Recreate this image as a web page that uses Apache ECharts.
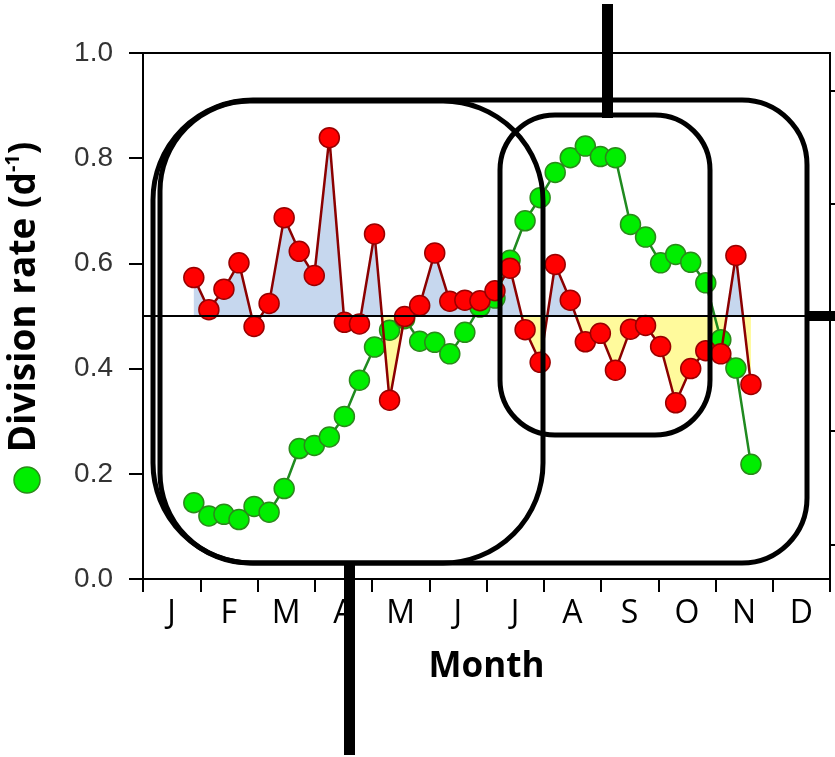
<!DOCTYPE html>
<html><head><meta charset="utf-8">
<script src="https://cdn.jsdelivr.net/npm/echarts@6/dist/echarts.min.js"></script>
<style>html,body{margin:0;padding:0;background:#fff}#c{width:835px;height:757px}</style>
</head><body><div id="c"></div>
<script>
const months = ['J','F','M','A','M','J','J','A','S','O','N','D'];
const days = [27,35,43,51,59,67,75,83,91,99,107,115,123,131,139,147,155,163,171,179,187,195,203,211,219,227,235,243,251,259,267,275,283,291,299,307,315,323];
const greenValues = [0.145,0.120,0.123,0.113,0.138,0.127,0.172,0.248,0.254,0.270,0.309,0.378,0.441,0.473,0.495,0.452,0.450,0.428,0.469,0.517,0.534,0.606,0.681,0.725,0.773,0.801,0.823,0.803,0.801,0.674,0.650,0.601,0.617,0.602,0.563,0.455,0.401,0.218];
const redValues = [0.573,0.512,0.551,0.601,0.480,0.524,0.687,0.623,0.577,0.839,0.488,0.485,0.656,0.340,0.499,0.520,0.620,0.528,0.530,0.529,0.548,0.591,0.474,0.412,0.598,0.530,0.451,0.467,0.397,0.475,0.482,0.442,0.335,0.400,0.434,0.428,0.615,0.370];
const refLevel = 0.5;
const rightTicks = [0.065,0.281,0.497,0.713,0.929];

const greenData = days.map((d,i)=>[d, greenValues[i]]);
const redData = days.map((d,i)=>[d, redValues[i]]);

const chart = echarts.init(document.getElementById('c'), null, {renderer:'canvas'});
const option = {
  animation:false,
  backgroundColor:'#fff',
  grid:{left:143, right:5, top:53, bottom:178, show:true, borderColor:'#000', borderWidth:2,
        containLabel:false, outerBoundsMode:'none'},
  visualMap:{show:false, type:'piecewise', seriesIndex:0, dimension:1,
    pieces:[{gte:-1, lt:refLevel, color:'#fffa9c'},{gte:refLevel, lte:2, color:'#c6d7ee'}]},
  xAxis:[
    {type:'category', data:months, boundaryGap:true, position:'bottom',
     axisLine:{show:true, lineStyle:{color:'#000', width:2}},
     axisTick:{show:true, inside:false, length:13, lineStyle:{color:'#000', width:2}},
     axisLabel:{fontFamily:'Open Sans', fontSize:32, color:'#000', margin:19},
     splitLine:{show:false},
     name:'Month', nameLocation:'middle', nameGap:71,
     nameTextStyle:{fontFamily:'Open Sans', fontWeight:'bold', fontSize:35, color:'#000'}},
    {type:'value', min:0, max:365, show:false}
  ],
  yAxis:[
    {type:'value', min:0, max:1, interval:0.2, position:'left',
     axisLine:{show:true, lineStyle:{color:'#000', width:2}},
     axisTick:{show:true, inside:false, length:14, lineStyle:{color:'#000', width:2}},
     axisLabel:{fontFamily:'Liberation Sans', fontSize:28, color:'#333', margin:30, formatter:v=>v.toFixed(1)},
     splitLine:{show:false},
     name:'{t|Division rate (d}{s|-1}{t|)}', nameLocation:'middle', nameGap:98, nameRotate:90,
     nameTextStyle:{padding:[0,0,0,38], rich:{
       t:{fontFamily:'Open Sans', fontWeight:'bold', fontSize:37, color:'#000', lineHeight:42},
       s:{fontFamily:'Open Sans', fontWeight:'bold', fontSize:20, color:'#000', verticalAlign:'top', lineHeight:42}}}},
    {type:'value', min:0, max:1, position:'right',
     axisLine:{show:true, lineStyle:{color:'#000', width:2}},
     axisTick:{show:true, inside:false, length:8, customValues:rightTicks, lineStyle:{color:'#000', width:2}},
     axisLabel:{show:false}, splitLine:{show:false}}
  ],
  series:[
    {name:'fill', type:'line', xAxisIndex:1, yAxisIndex:0, data:redData, symbol:'none',
     lineStyle:{width:0, opacity:0}, areaStyle:{origin:refLevel, opacity:1}, z:1, silent:true},
    {name:'Division rate', type:'line', xAxisIndex:1, yAxisIndex:0, data:greenData,
     symbol:'circle', symbolSize:20,
     lineStyle:{color:'#1f8a1f', width:2.5},
     itemStyle:{color:'#00ee00', borderColor:'#2a8a1a', borderWidth:1.5}, z:3},
    {name:'Red', type:'line', xAxisIndex:1, yAxisIndex:0, data:redData,
     symbol:'circle', symbolSize:20,
     lineStyle:{color:'#8b0000', width:2.5},
     itemStyle:{color:'#ff0000', borderColor:'#990000', borderWidth:1.5}, z:4,
     markLine:{silent:true, symbol:'none', label:{show:false}, z:6,
       lineStyle:{color:'#000', width:1.8, type:'solid'}, data:[{yAxis:refLevel}]}}
  ],
  graphic:[
    {type:'circle', shape:{cx:27, cy:480, r:13}, style:{fill:'#00ee00', stroke:'#2a8a1a', lineWidth:1.5}},
    {type:'rect', z:100, shape:{x:153, y:100, width:654, height:463, r:[100,65,65,100]}, style:{fill:'none', stroke:'#000', lineWidth:5}},
    {type:'rect', z:100, shape:{x:160, y:101, width:383, height:462, r:[90,100,100,90]}, style:{fill:'none', stroke:'#000', lineWidth:5}},
    {type:'rect', z:100, shape:{x:500, y:115, width:210, height:320, r:55}, style:{fill:'none', stroke:'#000', lineWidth:5}},
    {type:'rect', z:100, shape:{x:602, y:4, width:11, height:114}, style:{fill:'#000'}},
    {type:'rect', z:100, shape:{x:344, y:563, width:11, height:192}, style:{fill:'#000'}},
    {type:'rect', z:100, shape:{x:807, y:311, width:28, height:10}, style:{fill:'#000'}}
  ]
};
chart.setOption(option);
</script></body></html>
